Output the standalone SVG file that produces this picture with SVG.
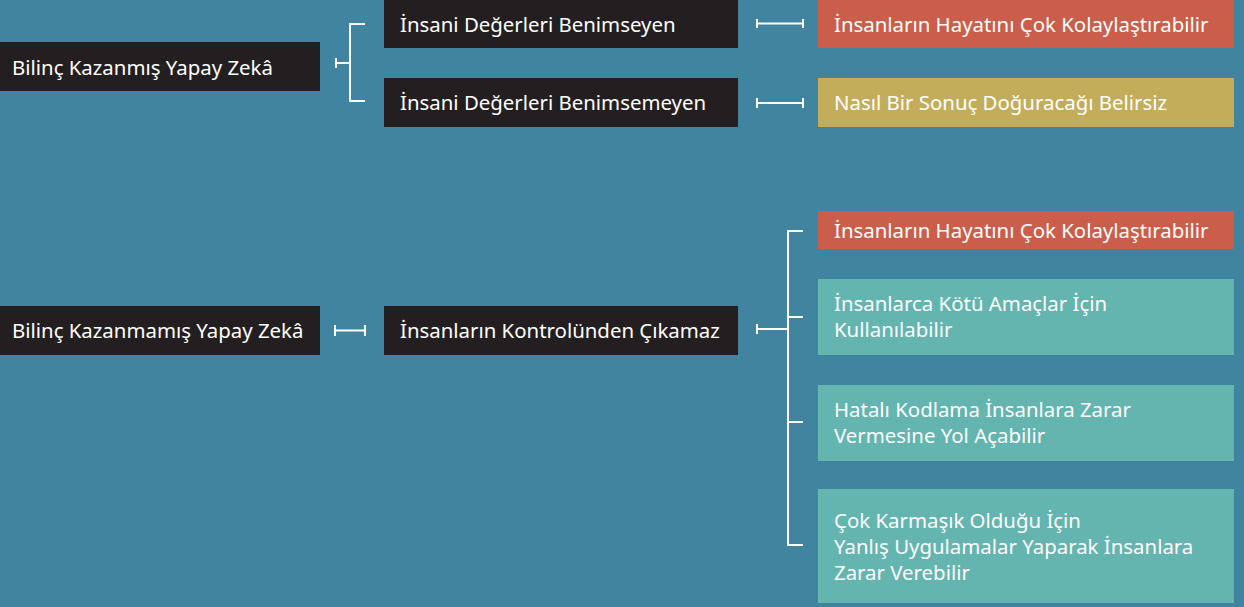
<svg xmlns="http://www.w3.org/2000/svg" width="1244" height="607" viewBox="0 0 1244 607">
<style>
.bg{fill:#41849f}
.dark{fill:#231f20}
.red{fill:#cb5e4a}
.gold{fill:#c4ad5a}
.teal{fill:#64b4b0}
text{font-family:"Noto Sans","Open Sans",sans-serif;font-size:20.4px;fill:#ffffff}
.ln{stroke:#ffffff;stroke-width:2;fill:none}
</style>
<rect class="bg" x="0" y="0" width="1244" height="607"/>
<g id="n1"><rect class="dark" x="0" y="42" width="320" height="49"/><text x="12" y="75">Bilinç Kazanmış Yapay Zekâ</text></g>
<g id="n2"><rect class="dark" x="384" y="0" width="354" height="48"/><text x="400" y="32">İnsani Değerleri Benimseyen</text></g>
<g id="n3"><rect class="dark" x="384" y="78" width="354" height="49"/><text x="400" y="110">İnsani Değerleri Benimsemeyen</text></g>
<g id="n4"><rect class="red" x="818" y="0" width="416" height="48"/><text x="834" y="32">İnsanların Hayatını Çok Kolaylaştırabilir</text></g>
<g id="n5"><rect class="gold" x="818" y="78" width="416" height="49"/><text x="834" y="110">Nasıl Bir Sonuç Doğuracağı Belirsiz</text></g>
<g id="n6"><rect class="dark" x="0" y="306" width="320" height="49"/><text x="12" y="338">Bilinç Kazanmamış Yapay Zekâ</text></g>
<g id="n7"><rect class="dark" x="384" y="306" width="354" height="49"/><text x="400" y="338">İnsanların Kontrolünden Çıkamaz</text></g>
<g id="n8"><rect class="red" x="818" y="211" width="416" height="38"/><text x="834" y="238">İnsanların Hayatını Çok Kolaylaştırabilir</text></g>
<g id="n9"><rect class="teal" x="818" y="279" width="416" height="76"/><text x="834" y="311">İnsanlarca Kötü Amaçlar İçin</text><text x="834" y="337">Kullanılabilir</text></g>
<g id="n10"><rect class="teal" x="818" y="385" width="416" height="76"/><text x="834" y="417">Hatalı Kodlama İnsanlara Zarar</text><text x="834" y="443">Vermesine Yol Açabilir</text></g>
<g id="n11"><rect class="teal" x="818" y="489" width="416" height="114"/><text x="834" y="528">Çok Karmaşık Olduğu İçin</text><text x="834" y="554">Yanlış Uygulamalar Yaparak İnsanlara</text><text x="834" y="580">Zarar Verebilir</text></g>
<g id="connectors">
<path class="ln" d="M336 58V68M336 63H350M365 24H350V101H365"/>
<path class="ln" d="M757 19V28M757 23.5H803M803 19V28"/>
<path class="ln" d="M757 98V108M757 103H803M803 98V108"/>
<path class="ln" d="M335 325V336M335 330.5H365M365 325V336"/>
<path class="ln" d="M757 324V334M757 329H788M803 231H788V545H803M788 317H803M788 422H803"/>
</g>
</svg>
